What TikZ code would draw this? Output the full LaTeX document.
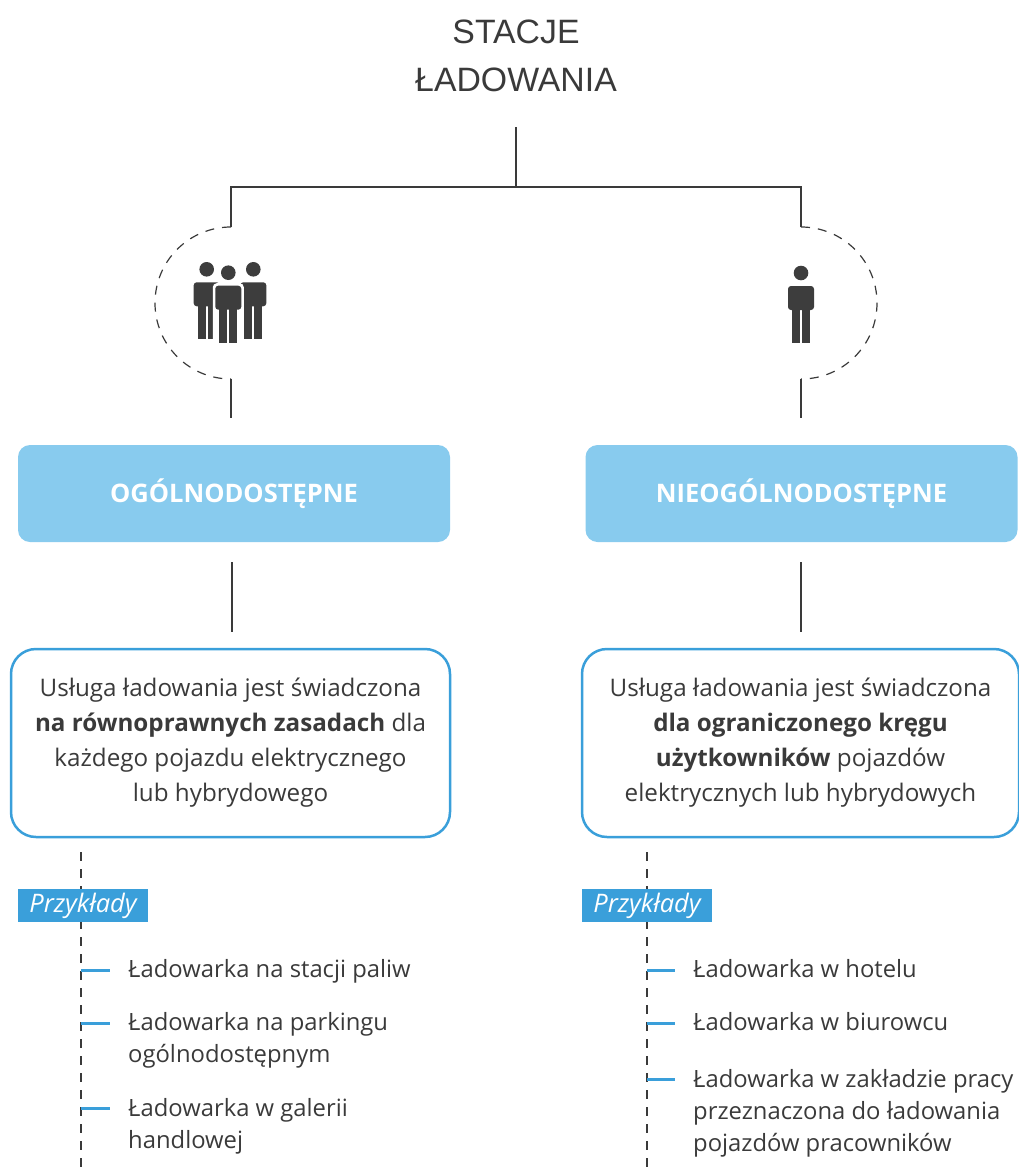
\documentclass[tikz,border=0pt]{standalone}
\usepackage{fontspec}
\setmainfont{Open Sans}
\newfontfamily\titlefont{Liberation Sans}
\usetikzlibrary{calc}
\definecolor{ink}{HTML}{3A3A3A}
\definecolor{lightblue}{HTML}{88CBEE}
\definecolor{blueline}{HTML}{3A9FDA}
\definecolor{iconc}{HTML}{3D3D3D}
\tikzset{
 person/.pic={
  \fill[iconc] (0,0) circle (7.3);
  \fill[iconc,rounded corners=3pt] (-13,13) rectangle (13,37);
  \fill[iconc] (-9,30) rectangle (-1.1,70);
  \fill[iconc] (1.1,30) rectangle (9,70);
 },
 personfront/.pic={
  \fill[white] (0,0) circle (9.8);
  \fill[white,rounded corners=4pt] (-15.5,10.5) rectangle (15.5,72);
  \fill[iconc] (0,0) circle (7.3);
  \fill[iconc,rounded corners=3pt] (-13,13) rectangle (13,37);
  \fill[iconc] (-9,30) rectangle (-1.1,70);
  \fill[iconc] (1.1,30) rectangle (9,70);
 }
}
\begin{document}
\begin{tikzpicture}[x=1pt,y=-1pt,
 conn/.style={draw=ink,line width=1.2pt},
 dashconn/.style={draw=ink,line width=1.2pt,dash pattern=on 9pt off 8pt},
 hdr/.style={fill=lightblue,rounded corners=12pt,minimum width=432pt,minimum height=97pt,text=white,font=\fontsize{25.5}{30}\selectfont\bfseries,inner sep=0pt},
 desc/.style={draw=blueline,line width=2.5pt,rounded corners=25pt,minimum width=439pt,minimum height=188pt,text=ink,align=center,font=\fontsize{24.2}{35}\selectfont,inner sep=0pt},
 tag/.style={fill=blueline,text=white,minimum width=130pt,minimum height=33pt,inner sep=0pt,font=\fontsize{25.5}{28}\selectfont\itshape},
 tick/.style={draw=blueline,line width=3pt},
 item/.style={anchor=north west,inner sep=0pt,align=left,text=ink,font=\fontsize{23.8}{32}\selectfont},
]
\useasboundingbox (0,0) rectangle (1018,1175);

% title
\node[anchor=north,inner sep=0pt,align=center,text=ink,font=\titlefont\fontsize{33.8}{48}\selectfont] (title) at (516,20) {STACJE\\ŁADOWANIA};
\coordinate (split) at (516,187);
\draw[conn] ($(title.south)+(0,35)$) -- (split);

% branches with dashed arcs
\coordinate (lA) at (231,227);
\coordinate (lB) at (231,379);
\coordinate (rA) at (801,227);
\coordinate (rB) at (801,379);
\draw[conn] (split) -| (lA);
\draw[conn] (split) -| (rA);
\draw[dashconn] (lA) .. controls (189,227) and (155,261) .. (155,303) .. controls (155,345) and (189,379) .. (lB);
\draw[dashconn] (rA) .. controls (843,227) and (877,261) .. (877,303) .. controls (877,345) and (843,379) .. (rB);

% icons
\pic at (206.7,269.3) {person};
\pic at (253.3,269.3) {person};
\pic at (228.3,272.7) {personfront};
\pic at (801,273) {person};

% headers
\node[hdr] (pub) at (234,493.5) {OGÓLNODOSTĘPNE};
\node[hdr] (priv) at (801.5,493.5) {NIEOGÓLNODOSTĘPNE};
\draw[conn] (lB) -- ($(lB |- pub.north)+(0,-27)$);
\draw[conn] (rB) -- ($(rB |- priv.north)+(0,-27)$);

% descriptions
\node[desc] (pubd) at (230.5,743) {Usługa ładowania jest świadczona\\\textbf{na równoprawnych zasadach} dla\\każdego pojazdu elektrycznego\\lub hybrydowego};
\node[desc,minimum width=437pt] (privd) at (800.5,743) {Usługa ładowania jest świadczona\\\textbf{dla ograniczonego kręgu}\\\textbf{użytkowników} pojazdów\\elektrycznych lub hybrydowych};
\draw[conn] ($(pub.south)+(-2,20)$) -- ($(pub.south |- pubd.north)+(-2,-16)$);
\draw[conn] ($(priv.south)+(-0.5,20)$) -- ($(priv.south |- privd.north)+(-0.5,-16)$);

% left examples
\coordinate (lD1) at (81,852);
\coordinate (lD2) at (81,1180);
\draw[dashconn] (lD1) -- (lD2);
\node[tag] (ltag) at (83,905.5) {Przykłady};
\node[item] (li1) at (128,958) {\rule{0pt}{19pt}Ładowarka na stacji paliw};
\node[item] (li2) at (128,1011) {\rule{0pt}{19pt}Ładowarka na parkingu\\ogólnodostępnym};
\node[item] (li3) at (128,1097) {\rule{0pt}{19pt}Ładowarka w galerii\\handlowej};
\coordinate (lt1) at (81,970);
\coordinate (lt2) at (81,1023);
\coordinate (lt3) at (81,1108);
\draw[tick] (lt1) -- ($(li1.west |- lt1)+(-18,0)$);
\draw[tick] (lt2) -- ($(li2.west |- lt2)+(-18,0)$);
\draw[tick] (lt3) -- ($(li3.west |- lt3)+(-18,0)$);

% right examples
\coordinate (rD1) at (647,852);
\coordinate (rD2) at (647,1180);
\draw[dashconn] (rD1) -- (rD2);
\node[tag] (rtag) at (647,905.5) {Przykłady};
\node[item] (ri1) at (693,958) {\rule{0pt}{19pt}Ładowarka w hotelu};
\node[item] (ri2) at (693,1011) {\rule{0pt}{19pt}Ładowarka w biurowcu};
\node[item] (ri3) at (693,1068) {\rule{0pt}{19pt}Ładowarka w zakładzie pracy\\przeznaczona do ładowania\\pojazdów pracowników};
\coordinate (rt1) at (647,970);
\coordinate (rt2) at (647,1023);
\coordinate (rt3) at (647,1079);
\draw[tick] (rt1) -- ($(ri1.west |- rt1)+(-18,0)$);
\draw[tick] (rt2) -- ($(ri2.west |- rt2)+(-18,0)$);
\draw[tick] (rt3) -- ($(ri3.west |- rt3)+(-18,0)$);
\end{tikzpicture}
\end{document}
